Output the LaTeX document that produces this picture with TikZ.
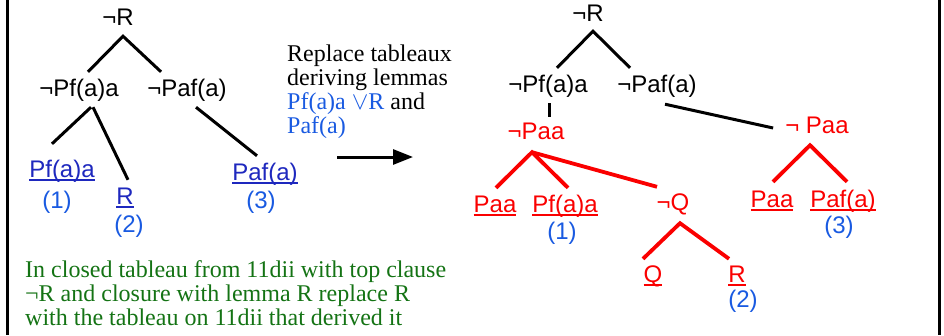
\documentclass[tikz,border=0pt]{standalone}
\usepackage{fontspec}
\setmainfont{Liberation Serif}
\newfontfamily\sansf{Liberation Sans}
\usetikzlibrary{arrows.meta,calc}

\definecolor{lemblue}{RGB}{30,40,190}
\definecolor{numblue}{RGB}{25,90,225}
\definecolor{tabred}{RGB}{250,0,0}
\definecolor{txtgreen}{RGB}{20,115,20}

\newcommand{\trfont}{\sansf\fontsize{24}{24}\selectfont}
\newcommand{\txfont}{\fontsize{24}{24}\selectfont}
\newcommand{\undl}[1]{\setbox0\hbox{#1}\rlap{\rule[-3.6pt]{\wd0}{1.4pt}}\box0}

\begin{document}
\begin{tikzpicture}[x=1pt,y=-1pt,
  lit/.style={anchor=base,inner sep=0pt,text height=17pt,text depth=5pt,font=\trfont},
  blk/.style={line width=3pt},
  rd/.style={line width=3.8pt,tabred},
  para/.style={anchor=north west,inner sep=0pt,align=left,font=\txfont}]
\useasboundingbox (0,0) rectangle (944,335);

% frame
\draw[line width=3pt] (7,0) -- (7,335);
\draw[line width=3pt] (939.5,0) -- (939.5,335);

% closed tableau with lemmas
\node[lit] (lR) at (118,25) {¬R};
\node[lit] (lPfa) at (79,96) {¬Pf(a)a};
\node[lit] (lPaf) at (187,96) {¬Paf(a)};
\node[lit,lemblue] (lPfaL) at (62,177) {\undl{Pf(a)a}};
\node[lit,numblue] (lN1) at (57,208) {(1)};
\node[lit,lemblue] (lRL) at (125,204) {\undl{R}};
\node[lit,numblue] (lN2) at (129,232) {(2)};
\node[lit,lemblue] (lPafL) at (265,180) {\undl{Paf(a)}};
\node[lit,numblue] (lN3) at (261,208) {(3)};

\draw[blk] ($(lPfa.north)+(9,-7)$) -- ($(lR.south)+(5,6)$) -- ($(lPaf.north)+(-26,-7)$);
\draw[blk] ($(lPfa.south)+(12,6)$) -- ($(lPfaL.north)+(-10,-16)$);
\draw[blk] ($(lPfa.south)+(14,6)$) -- ($(lRL.north)+(3,-7)$);
\draw[blk] ($(lPaf.south)+(9,6)$) -- ($(lPafL.north)+(-8,-7)$);

% replacement
\node[para] (note) at (287,45) {Replace tableaux\\deriving lemmas\\{\color{numblue}Pf(a)a $\vee$R} and\\{\color{numblue}Paf(a)}};
\coordinate (aS) at (337,157);
\coordinate (aE) at (413,157);
\draw[line width=3pt,-{Triangle[length=20pt,width=15pt]}] (aS) -- (aE);

% tableau after replacement
\node[lit] (rR) at (588,21) {¬R};
\node[lit] (rPfa) at (548,92) {¬Pf(a)a};
\node[lit] (rPaf) at (657,92) {¬Paf(a)};
\node[lit,tabred] (rPaa) at (536,139) {¬Paa};
\node[lit,tabred] (rPaa2) at (817,133) {¬ Paa};
\node[lit,tabred] (rPaaL) at (495,212) {\undl{Paa}};
\node[lit,tabred] (rPfaL) at (565,212) {\undl{Pf(a)a}};
\node[lit,numblue] (rN1) at (562,239) {(1)};
\node[lit,tabred] (rQn) at (673,210) {¬Q};
\node[lit,tabred] (rQL) at (653,282) {\undl{Q}};
\node[lit,tabred] (rRL) at (737,282) {\undl{R}};
\node[lit,numblue] (rN2) at (743,307) {(2)};
\node[lit,tabred] (rPaaL2) at (772,207) {\undl{Paa}};
\node[lit,tabred] (rPafL) at (843,207) {\undl{Paf(a)}};
\node[lit,numblue] (rN3) at (839,233) {(3)};

\draw[blk] ($(rPfa.north)+(9,-7)$) -- ($(rR.south)+(5,5)$) -- ($(rPaf.north)+(-27,-7)$);
\draw[blk] ($(rPfa.south)+(1,6)$) -- ($(rPaa.north)+(13,-5)$);
\draw[blk] ($(rPaf.south)+(8,7)$) -- ($(rPaa2.west)+(-12,1)$);
\draw[rd] ($(rPaaL.north)+(1,-7)$) -- ($(rPaa.south)+(-4,8)$) -- ($(rPfaL.north)+(3,-7)$);
\draw[rd] ($(rPaa.south)+(-4,8)$) -- ($(rQn.north)+(-16,-6)$);
\draw[rd] ($(rQL.north)+(-10,-6)$) -- ($(rQn.south)+(7,8)$) -- ($(rRL.north)+(-8,-6)$);
\draw[rd] ($(rPaaL2.north)+(1,-8)$) -- ($(rPaa2.south)+(-7,7)$) -- ($(rPafL.north)+(4,-8)$);

\node[para,txtgreen] (cap) at (25,260) {In closed tableau from 11dii with top clause\\¬R and closure with lemma R replace R\\with the tableau on 11dii that derived it};
\end{tikzpicture}
\end{document}
